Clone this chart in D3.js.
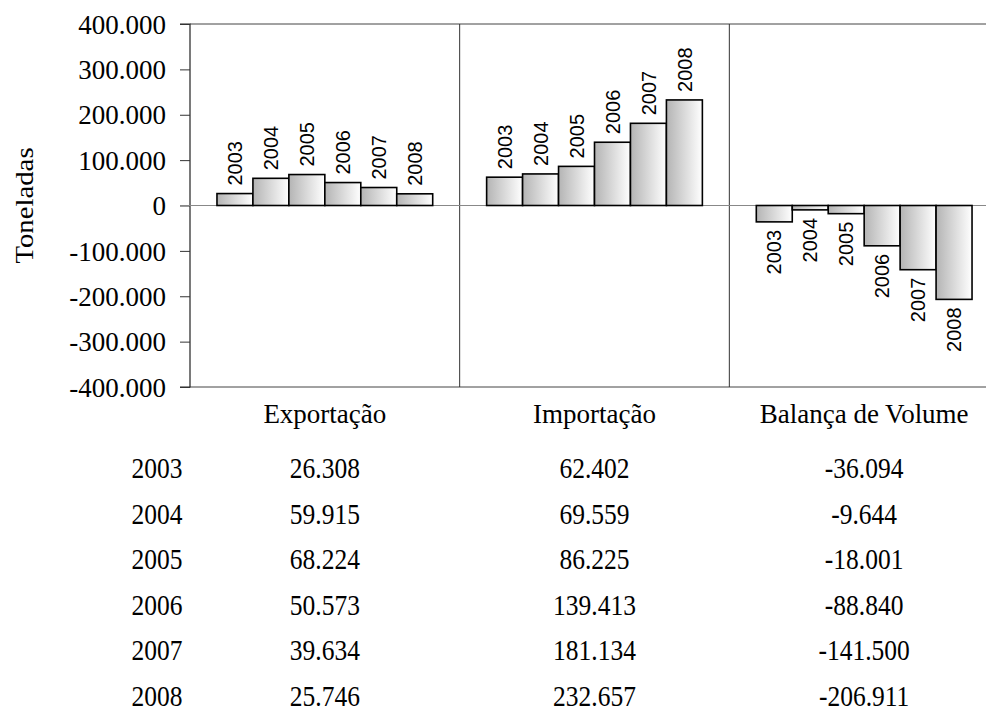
<!DOCTYPE html>
<html>
<head>
<meta charset="utf-8">
<script src="https://cdn.jsdelivr.net/npm/d3@7"></script>
<style>
  html, body { margin: 0; padding: 0; background: #fff; }
  svg { display: block; }
</style>
</head>
<body>
<script>
// ---- data ----
const categories = ["Exportação", "Importação", "Balança de Volume"];
const years = ["2003", "2004", "2005", "2006", "2007", "2008"];
const exportacao = [26308, 59915, 68224, 50573, 39634, 25746];
const importacao = [62402, 69559, 86225, 139413, 181134, 232657];
const balanca = [-36094, -9644, -18001, -88840, -141500, -206911];
const yTicks = [-400000, -300000, -200000, -100000, 0, 100000, 200000, 300000, 400000];
const yTitle = "Toneladas";

(function () {
const seriesByCat = [exportacao, importacao, balanca];

const W = 986, H = 715;
const pL = 190, pR = 999, pT = 24, pB = 387;
const serif = "'Liberation Serif', 'Times New Roman', serif";

const locale = d3.formatLocale({decimal: ",", thousands: ".", grouping: [3], currency: ["", ""], minus: "-"});
const fmt = locale.format(",d");

const svg = d3.select("body").append("svg").attr("width", W).attr("height", H);

const defs = svg.append("defs");
const grad = defs.append("linearGradient").attr("id", "barGrad")
  .attr("x1", "0%").attr("x2", "100%").attr("y1", "0%").attr("y2", "0%");
grad.append("stop").attr("offset", "0%").attr("stop-color", "#b4b4b4");
grad.append("stop").attr("offset", "100%").attr("stop-color", "#ffffff");

const x0 = d3.scaleBand().domain(categories).range([pL, pR]).paddingInner(0).paddingOuter(0);
const x1 = d3.scaleBand().domain(years).range([0, x0.bandwidth()]).paddingInner(0).paddingOuter(0.75);
const y = d3.scaleLinear().domain([-400000, 400000]).range([pB, pT]);

// frame
svg.append("line").attr("x1", pL).attr("x2", pR).attr("y1", pT).attr("y2", pT)
  .attr("stroke", "#444").attr("stroke-width", 1);
svg.append("line").attr("x1", pL).attr("x2", pR).attr("y1", pB).attr("y2", pB)
  .attr("stroke", "#444").attr("stroke-width", 1);
// dividers
categories.slice(1).forEach(c => {
  svg.append("line").attr("x1", x0(c)).attr("x2", x0(c)).attr("y1", pT).attr("y2", pB)
    .attr("stroke", "#333").attr("stroke-width", 1);
});

// y axis
const yAxis = d3.axisLeft(y).tickValues(yTicks).tickSize(10).tickPadding(14).tickFormat(fmt);
const gy = svg.append("g").attr("transform", `translate(${pL},0)`).call(yAxis);
gy.select(".domain").attr("stroke", "#222").attr("stroke-width", 1.2).attr("d", `M-10,${pT}H0V${pB}H-10`);
gy.selectAll(".tick line").attr("stroke", "#333");
gy.selectAll(".tick text").attr("font-family", serif)
  .attr("font-size", 27).attr("fill", "#000").attr("dy", "0.34em");

// zero line
svg.append("line").attr("x1", pL - 10).attr("x2", pR).attr("y1", y(0)).attr("y2", y(0))
  .attr("stroke", "#888").attr("stroke-width", 1.2);

// y title
svg.append("text").attr("transform", `translate(24,${(pT + pB) / 2}) rotate(-90) scale(1.15,1)`)
  .attr("text-anchor", "middle").attr("dy", "0.35em")
  .attr("font-family", serif).attr("font-size", 25)
  .text(yTitle);

// bars
categories.forEach((c, ci) => {
  const vals = seriesByCat[ci];
  const g = svg.append("g").attr("transform", `translate(${x0(c)},0)`);
  g.selectAll("rect").data(vals).join("rect")
    .attr("x", (d, i) => x1(years[i]))
    .attr("width", x1.bandwidth())
    .attr("y", d => y(Math.max(0, d)))
    .attr("height", d => Math.abs(y(d) - y(0)))
    .attr("fill", "url(#barGrad)")
    .attr("stroke", "#000").attr("stroke-width", 1.6);
  g.selectAll("text.lbl").data(vals).join("text").attr("class", "lbl")
    .attr("transform", (d, i) => {
      const cx = x1(years[i]) + x1.bandwidth() / 2;
      const yy = d >= 0 ? y(d) - 8 : y(d) + 8;
      return `translate(${cx},${yy}) rotate(-90)`;
    })
    .attr("text-anchor", d => d >= 0 ? "start" : "end")
    .attr("dy", "0.36em")
    .attr("font-family", "'Liberation Sans', Arial, sans-serif").attr("font-size", 20)
    .text((d, i) => years[i]);
});

// category labels
svg.selectAll("text.cat").data(categories).join("text").attr("class", "cat")
  .attr("transform", d => `translate(${x0(d) + x0.bandwidth() / 2},423) scale(1,1.05)`)
  .attr("text-anchor", "middle")
  .attr("font-family", serif).attr("font-size", 27)
  .text(d => d);

// data table
const rowY = d3.scalePoint().domain(years).range([478, 706]);
years.forEach((yr, i) => {
  svg.append("text").attr("transform", `translate(157,${rowY(yr)}) scale(1,1.12)`)
    .attr("text-anchor", "middle")
    .attr("font-family", serif).attr("font-size", 25.5)
    .text(yr);
  categories.forEach((c, ci) => {
    svg.append("text").attr("transform", `translate(${x0(c) + x0.bandwidth() / 2},${rowY(yr)}) scale(1,1.12)`)
      .attr("text-anchor", "middle")
      .attr("font-family", serif).attr("font-size", 25.5)
      .text(fmt(seriesByCat[ci][i]));
  });
});
})();
</script>
</body>
</html>
